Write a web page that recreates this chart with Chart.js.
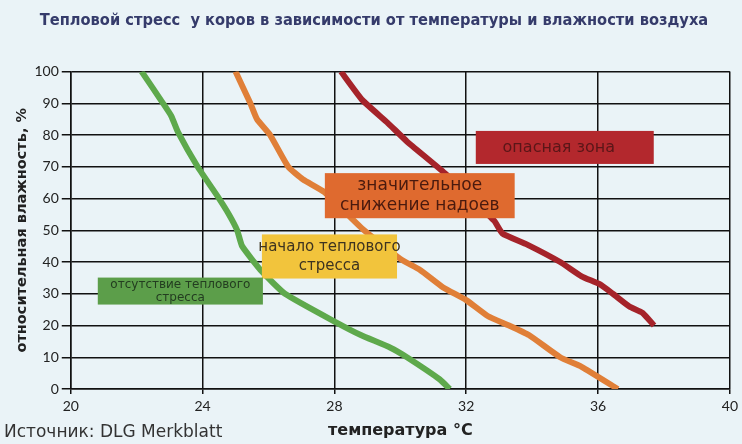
<!DOCTYPE html>
<html>
<head>
<meta charset="utf-8">
<script src="https://cdn.jsdelivr.net/npm/chart.js@4.4.0/dist/chart.umd.min.js"></script>
<style>
  html, body { margin: 0; padding: 0; background: #eaf3f7; }
  #wrap { position: relative; width: 742px; height: 444px; }
  #source { position: absolute; left: 4px; top: 421px; font: 17px "DejaVu Sans", sans-serif; color: #333; }
</style>
</head>
<body>
<div id="wrap">
  <canvas id="chart" width="742" height="444"></canvas>
  <div id="source">Источник: DLG Merkblatt</div>
</div>
<script>
// temperature (°C) / relative humidity (%)
const greenTemp = [22.15, 22.8, 23.05, 23.25, 23.85, 24.5, 24.8, 25.05, 25.2, 25.8, 26.5, 28.05, 28.8, 29.7, 30.2, 31.2, 31.5];
const greenHum  = [100, 90, 86, 81, 70, 60, 55, 50, 45, 37, 30, 21, 17, 13, 10, 3, 0];

const orangeTemp = [25.0, 25.45, 25.65, 26.05, 26.6, 27.05, 27.7, 28.9, 30.0, 30.6, 31.3, 32.0, 32.65, 33.3, 33.9, 34.85, 35.5, 36.6];
const orangeHum  = [100, 90, 85, 80, 70, 66, 62, 50, 41, 37.5, 32, 28, 23, 20, 17, 10, 7, 0];

const redTemp = [28.2, 28.85, 29.6, 30.2, 31.35, 32.85, 33.1, 33.85, 34.85, 35.5, 36.05, 36.45, 36.95, 37.35, 37.7];
const redHum  = [100, 91, 84, 78, 68, 53, 49, 45.5, 40, 35.5, 33, 30, 26, 24, 20];

const xTicks = [20, 24, 28, 32, 36, 40];
const yTicks = [0, 10, 20, 30, 40, 50, 60, 70, 80, 90, 100];

const zoneNames = [
  ["опасная зона"],
  ["значительное", "снижение надоев"],
  ["начало теплового", "стресса"],
  ["отсутствие теплового", "стресса"],
];

// label boxes, placed in data units (temp range, humidity range)
const ZONES = [
  { t0: 32.29, t1: 37.69, h0: 70.9, h1: 81.3, fill: "#b3282d", color: "#5a1618", font: "16px 'DejaVu Sans'", lh: 18, dx: -6 },
  { t0: 27.71, t1: 33.47, h0: 53.8, h1: 68.0, fill: "#df6a2f", color: "#4a1a0e", font: "17px 'DejaVu Sans'", lh: 20, dx: 0 },
  { t0: 25.8,  t1: 29.9,  h0: 34.8, h1: 48.7, fill: "#f2c43c", color: "#3d3320", font: "15px 'DejaVu Sans'", lh: 19, dx: 0 },
  { t0: 20.82, t1: 25.83, h0: 26.6, h1: 35.1, fill: "#5c9e4a", color: "#233d20", font: "12px 'DejaVu Sans'", lh: 13, dx: 0 },
];

const toPoints = (xs, ys) => xs.map((x, i) => ({ x, y: ys[i] }));

const zoneBoxes = {
  id: "zoneBoxes",
  afterDatasetsDraw(chart) {
    const { ctx, scales: { x, y } } = chart;
    ZONES.forEach((z, i) => {
      const left = x.getPixelForValue(z.t0);
      const right = x.getPixelForValue(z.t1);
      const top = y.getPixelForValue(z.h1);
      const bottom = y.getPixelForValue(z.h0);
      ctx.save();
      ctx.fillStyle = z.fill;
      ctx.fillRect(left, top, right - left, bottom - top);
      ctx.fillStyle = z.color;
      ctx.font = z.font;
      ctx.textAlign = "center";
      ctx.textBaseline = "middle";
      const lines = zoneNames[i];
      const cx = (left + right) / 2 + z.dx;
      const cy = (top + bottom) / 2 - (lines.length - 1) * z.lh / 2;
      lines.forEach((s, k) => ctx.fillText(s, cx, cy + k * z.lh));
      ctx.restore();
    });
  },
};

const lineStyle = (color) => ({
  borderColor: color,
  backgroundColor: color,
  borderWidth: 6,
  pointRadius: 0,
  tension: 0.15,
  borderJoinStyle: "round",
  fill: false,
});

new Chart(document.getElementById("chart"), {
  type: "line",
  data: {
    datasets: [
      { label: "green", data: toPoints(greenTemp, greenHum), ...lineStyle("#5ea94c") },
      { label: "orange", data: toPoints(orangeTemp, orangeHum), ...lineStyle("#e07f38") },
      { label: "red", data: toPoints(redTemp, redHum), ...lineStyle("#a5232a") },
    ],
  },
  options: {
    responsive: false,
    animation: false,
    layout: { padding: { top: 0, right: 8, left: 14, bottom: 4 } },
    plugins: {
      legend: { display: false },
      tooltip: { enabled: false },
      title: {
        display: true,
        text: "Тепловой стресс  у коров в зависимости от температуры и влажности воздуха",
        color: "#353b6b",
        font: { family: "'DejaVu Sans Condensed', 'DejaVu Sans'", size: 16.3, weight: "bold" },
        padding: { top: 11, bottom: 41 },
      },
    },
    scales: {
      x: {
        type: "linear",
        min: 20,
        max: 40,
        afterBuildTicks: (s) => { s.ticks = xTicks.map((v) => ({ value: v })); },
        grid: { color: "#111", lineWidth: 1.5, tickLength: 5, drawTicks: true },
        border: { color: "#111", width: 1.5 },
        ticks: { color: "#222", font: { family: "Lato", size: 14 }, padding: 4 },
        title: {
          display: true,
          text: "температура °C",
          color: "#222",
          font: { family: "'DejaVu Sans'", size: 16, weight: "bold" },
          padding: { top: 2, bottom: 0 },
        },
      },
      y: {
        min: 0,
        max: 100,
        afterBuildTicks: (s) => { s.ticks = yTicks.map((v) => ({ value: v })); },
        grid: { color: "#111", lineWidth: 1.5, tickLength: 9 },
        border: { color: "#111", width: 1.5 },
        ticks: { color: "#222", font: { family: "Lato", size: 14 }, padding: 3 },
        title: {
          display: true,
          text: "относительная влажность, %",
          color: "#222",
          font: { family: "'DejaVu Sans'", size: 14.5, weight: "bold" },
          padding: { top: 0, bottom: 0 },
        },
      },
    },
  },
  plugins: [zoneBoxes],
});
</script>
</body>
</html>
